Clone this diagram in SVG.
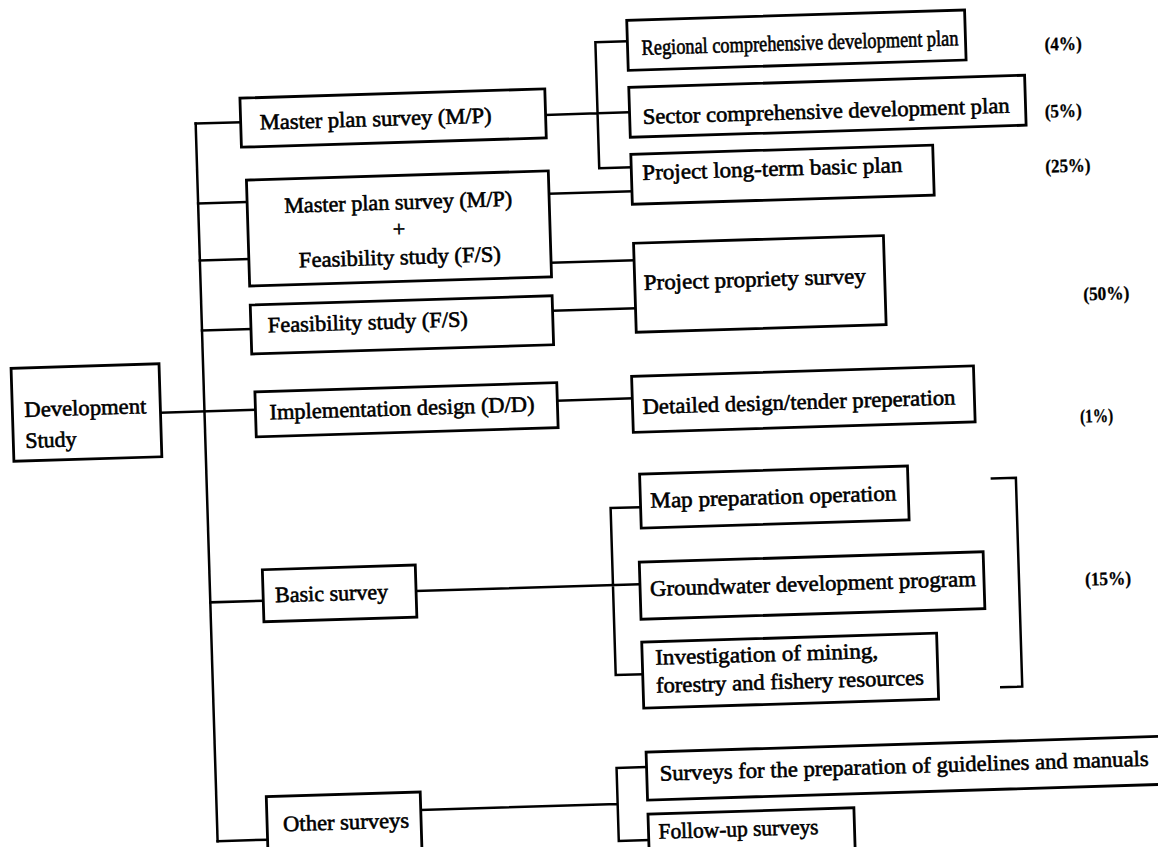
<svg xmlns="http://www.w3.org/2000/svg" width="1158" height="847" viewBox="0 0 1158 847">
<style>
  .box{fill:#fff;stroke:#000;stroke-width:2.8}
  .ln{fill:none;stroke:#000;stroke-width:2.5;stroke-linecap:square}
  text{font-family:"Liberation Serif","Times New Roman",serif;font-size:22px;fill:#000;stroke:#000;stroke-width:0.6}
  .c{text-anchor:middle}
  .pct{font-weight:bold;font-size:19px;stroke-width:0.3}
</style>
<rect width="1158" height="847" fill="#fff"/>
<!-- whole chart sits slightly turned on the page -->
<g transform="rotate(-1.75 579 423)">
  <g id="connectors">
    <path class="ln" d="M205,112 V830"/>
    <path class="ln" d="M205,112 H250"/>
    <path class="ln" d="M205,192 H254 M205,249 H254"/>
    <path class="ln" d="M205,319 H254"/>
    <path class="ln" d="M161,400 H256"/>
    <path class="ln" d="M205,591 H258"/>
    <path class="ln" d="M205,830 H255"/>
    <path class="ln" d="M555,114 H607 M607,43 V169 M607,43 H639 M607,114 H639 M607,169 H639"/>
    <path class="ln" d="M556,193 H639"/>
    <path class="ln" d="M556,262 H639"/>
    <path class="ln" d="M556,310 H639"/>
    <path class="ln" d="M558,400 H633"/>
    <path class="ln" d="M411,586 H635 M608,509 V676 M608,509 H638 M608,676 H635"/>
    <path class="ln" d="M990,491 H1014 V700 H993"/>
    <path class="ln" d="M409,805 H606 M606,769 V842 M606,769 H636 M606,842 H636"/>
  </g>

  <g id="development-study">
    <rect class="box" x="13" y="351" width="148" height="93"/>
    <text x="25" y="400" textLength="122" lengthAdjust="spacingAndGlyphs">Development</text>
    <text x="25" y="431">Study</text>
  </g>
  <g id="master-plan">
    <rect class="box" x="250" y="88" width="305" height="49"/>
    <text x="269" y="120" textLength="232" lengthAdjust="spacingAndGlyphs">Master plan survey (M/P)</text>
  </g>
  <g id="master-plan-feasibility">
    <rect class="box" x="254" y="170" width="302" height="106"/>
    <text class="c" x="405" y="204" textLength="228" lengthAdjust="spacingAndGlyphs">Master plan survey (M/P)</text>
    <text class="c" x="405" y="231">+</text>
    <text class="c" x="405" y="259" textLength="202" lengthAdjust="spacingAndGlyphs">Feasibility study (F/S)</text>
  </g>
  <g id="feasibility">
    <rect class="box" x="254" y="295" width="302" height="49"/>
    <text x="271" y="323" textLength="200" lengthAdjust="spacingAndGlyphs">Feasibility study (F/S)</text>
  </g>
  <g id="implementation">
    <rect class="box" x="256" y="382" width="302" height="45"/>
    <text x="270" y="410" textLength="265" lengthAdjust="spacingAndGlyphs">Implementation design (D/D)</text>
  </g>
  <g id="basic-survey">
    <rect class="box" x="258" y="560" width="153" height="52"/>
    <text x="270" y="593" textLength="113" lengthAdjust="spacingAndGlyphs">Basic survey</text>
  </g>
  <g id="other-surveys">
    <rect class="box" x="255" y="787" width="154" height="58"/>
    <text x="271" y="822" textLength="126" lengthAdjust="spacingAndGlyphs">Other surveys</text>
  </g>

  <g id="regional-plan">
    <rect class="box" x="639" y="22" width="338" height="50"/>
    <text x="653" y="57" textLength="317" lengthAdjust="spacingAndGlyphs">Regional comprehensive development plan</text>
  </g>
  <g id="sector-plan">
    <rect class="box" x="639" y="89" width="396" height="50"/>
    <text x="652" y="126" textLength="367" lengthAdjust="spacingAndGlyphs">Sector comprehensive development plan</text>
  </g>
  <g id="long-term-plan">
    <rect class="box" x="639" y="156" width="302" height="50"/>
    <text x="650" y="182" textLength="260" lengthAdjust="spacingAndGlyphs">Project long-term basic plan</text>
  </g>
  <g id="propriety-survey">
    <rect class="box" x="639" y="245" width="250" height="89"/>
    <text x="648" y="292" textLength="222" lengthAdjust="spacingAndGlyphs">Project propriety survey</text>
  </g>
  <g id="detailed-design">
    <rect class="box" x="633" y="378" width="342" height="56"/>
    <text x="643" y="416" textLength="313" lengthAdjust="spacingAndGlyphs">Detailed design/tender preperation</text>
  </g>
  <g id="map-preparation">
    <rect class="box" x="638" y="476" width="268" height="54"/>
    <text x="648" y="510" textLength="246" lengthAdjust="spacingAndGlyphs">Map preparation operation</text>
  </g>
  <g id="groundwater">
    <rect class="box" x="635" y="564" width="344" height="57"/>
    <text x="645" y="598" textLength="326" lengthAdjust="spacingAndGlyphs">Groundwater development program</text>
  </g>
  <g id="resources">
    <rect class="box" x="635" y="644" width="295" height="66"/>
    <text x="648" y="667" textLength="223" lengthAdjust="spacingAndGlyphs">Investigation of mining,</text>
    <text x="648" y="695" textLength="268" lengthAdjust="spacingAndGlyphs">forestry and fishery resources</text>
  </g>
  <g id="guidelines-surveys">
    <rect class="box" x="636" y="754" width="540" height="48"/>
    <text x="649" y="783" textLength="489" lengthAdjust="spacingAndGlyphs">Surveys for the preparation of guidelines and manuals</text>
  </g>
  <g id="follow-up">
    <rect class="box" x="636" y="816" width="206" height="60"/>
    <text x="646" y="841" textLength="160" lengthAdjust="spacingAndGlyphs">Follow-up surveys</text>
  </g>

  <g id="shares">
    <text class="pct" x="1056" y="65" textLength="37" lengthAdjust="spacingAndGlyphs">(4%)</text>
    <text class="pct" x="1054" y="132" textLength="37" lengthAdjust="spacingAndGlyphs">(5%)</text>
    <text class="pct" x="1053" y="187" textLength="45" lengthAdjust="spacingAndGlyphs">(25%)</text>
    <text class="pct" x="1087" y="316" textLength="46" lengthAdjust="spacingAndGlyphs">(50%)</text>
    <text class="pct" x="1080" y="438" textLength="33" lengthAdjust="spacingAndGlyphs">(1%)</text>
    <text class="pct" x="1080" y="601" textLength="46" lengthAdjust="spacingAndGlyphs">(15%)</text>
  </g>
</g>
</svg>
